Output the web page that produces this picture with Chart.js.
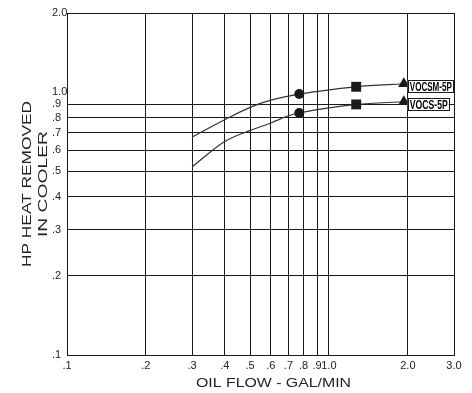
<!DOCTYPE html>
<html><head><meta charset="utf-8">
<script src="https://cdn.jsdelivr.net/npm/chart.js@4/dist/chart.umd.min.js"></script>
<style>html,body{margin:0;padding:0;background:#fff;}</style>
</head><body>
<canvas id="c" width="472" height="393"></canvas>
<script>
// ---- data ----
const seriesNames = ['VOCSM-5P', 'VOCS-5P'];
const flowUpper = [0.3, 0.4, 0.5, 0.6, 0.77, 1.27, 1.93];
const heatUpper = [0.675, 0.785, 0.875, 0.932, 0.983, 1.048, 1.076];
const flowLower = [0.3, 0.4, 0.5, 0.6, 0.7, 0.77, 1.27, 1.93];
const heatLower = [0.519, 0.649, 0.715, 0.763, 0.813, 0.833, 0.898, 0.919];
const markerFlows = [0.77, 1.27, 1.93];
const xTicks = [0.1, 0.2, 0.3, 0.4, 0.5, 0.6, 0.7, 0.8, 0.9, 1.0, 2.0, 3.0];
const xTickLabels = ['.1', '.2', '.3', '.4', '.5', '.6', '.7', '.8', '.9', '1.0', '2.0', '3.0'];
const yTicks = [0.1, 0.2, 0.3, 0.4, 0.5, 0.6, 0.7, 0.8, 0.9, 1.0, 2.0];
const yTickLabels = ['.1', '.2', '.3', '.4', '.5', '.6', '.7', '.8', '.9', '1.0', '2.0'];
const yNoGridAt = [1.0];
const xTitle = 'OIL FLOW - GAL/MIN';
const yTitle = ['HP HEAT REMOVED', 'IN COOLER'];

// ---- styles ----
const markerShapes = ['circle', 'rect', 'triangle'];
const markerRadius = [5, 7, 6.5];
const INK = '#1a1a1a';
const FONT = '"Liberation Sans", Arial, sans-serif';

function toPoints(xs, ys) { return xs.map((v, i) => ({ x: v, y: ys[i] })); }
function markerIndex(ctx) {
  const raw = ctx.raw; if (!raw) return -1;
  return markerFlows.findIndex(f => Math.abs(f - raw.x) < 1e-9);
}

function ds(label, xs, ys) {
  return {
    label,
    data: toPoints(xs, ys),
    borderColor: '#333',
    borderWidth: 1.2,
    cubicInterpolationMode: 'monotone',
    backgroundColor: INK,
    pointBorderWidth: 0,
    pointStyle: c => { const m = markerIndex(c); return m < 0 ? false : markerShapes[m]; },
    pointRadius: c => { const m = markerIndex(c); return m < 0 ? 0 : markerRadius[m]; },
    pointHoverRadius: c => { const m = markerIndex(c); return m < 0 ? 0 : markerRadius[m]; }
  };
}

function drawStretched(ctx, text, x, y, len, rot, align) {
  const w = ctx.measureText(text).width;
  ctx.save();
  ctx.translate(x, y);
  ctx.rotate(rot);
  ctx.scale(len / w, 1);
  ctx.textAlign = align || 'center';
  ctx.fillText(text, 0, 0);
  ctx.restore();
}

const annot = {
  id: 'annot',
  afterDraw(chart) {
    const { ctx, chartArea: a, scales: { x, y } } = chart;
    ctx.save();
    ctx.fillStyle = '#222';
    ctx.textBaseline = 'alphabetic';
    ctx.font = '12.5px ' + FONT;
    // x title
    drawStretched(ctx, xTitle, (a.left + a.right) / 2 + 13, 387, 155, 0);
    // y title (two lines)
    const cy = (a.top + a.bottom) / 2;
    drawStretched(ctx, yTitle[0], 30.7, cy, 166, -Math.PI / 2);
    drawStretched(ctx, yTitle[1], 47, cy, 106, -Math.PI / 2);
    // series labels boxes at the end of each curve
    chart.data.datasets.forEach((d, i) => {
      const last = d.data[d.data.length - 1];
      const px = x.getPixelForValue(last.x) + 4;
      const py = y.getPixelForValue(last.y) + 2;
      const bw = i === 0 ? 45 : 41, bh = 12;
      ctx.fillStyle = '#fff';
      ctx.fillRect(px, py - bh / 2, bw, bh);
      ctx.strokeStyle = INK;
      ctx.lineWidth = 1;
      ctx.strokeRect(Math.round(px) + 0.5, Math.round(py - bh / 2) + 0.5, bw, bh);
      ctx.fillStyle = '#000';
      ctx.font = 'bold 12.5px "Liberation Sans Narrow", ' + FONT;
      ctx.textBaseline = 'alphabetic';
      drawStretched(ctx, d.label, px + bw / 2 + 0.5, py + 5, bw - 3, 0);
    });
    ctx.restore();
  }
};

new Chart(document.getElementById('c'), {
  type: 'line',
  data: { datasets: [ds(seriesNames[0], flowUpper, heatUpper), ds(seriesNames[1], flowLower, heatLower)] },
  options: {
    responsive: false,
    animation: false,
    devicePixelRatio: 1,
    layout: { padding: { left: 52, right: 18, top: 13, bottom: 0 } },
    plugins: { legend: { display: false }, tooltip: { enabled: false } },
    scales: {
      x: {
        type: 'logarithmic', min: 0.1, max: 3.0,
        afterBuildTicks: s => { s.ticks = xTicks.map(v => ({ value: v })); },
        afterFit: s => { s.height = 38; },
        ticks: {
          autoSkip: false, maxRotation: 0, padding: 4, color: '#222',
          font: { family: FONT, size: 11 },
          callback: (v, i) => xTickLabels[i]
        },
        grid: { color: INK, lineWidth: 1, drawTicks: false },
        border: { display: true, color: INK, width: 1 }
      },
      y: {
        type: 'logarithmic', min: 0.1, max: 2.0,
        afterBuildTicks: s => { s.ticks = yTicks.map(v => ({ value: v })); },
        afterFit: s => { s.width = 15; },
        ticks: {
          autoSkip: false, crossAlign: 'far', padding: 2, color: '#222',
          font: { family: FONT, size: 11 },
          callback: (v, i) => yTickLabels[i]
        },
        grid: {
          drawTicks: false, lineWidth: 1,
          color: c => (c.tick && yNoGridAt.some(g => Math.abs(g - c.tick.value) < 1e-9)) ? 'rgba(0,0,0,0)' : INK
        },
        border: { display: true, color: INK, width: 1 }
      }
    }
  },
  plugins: [annot]
});
</script>
</body></html>
